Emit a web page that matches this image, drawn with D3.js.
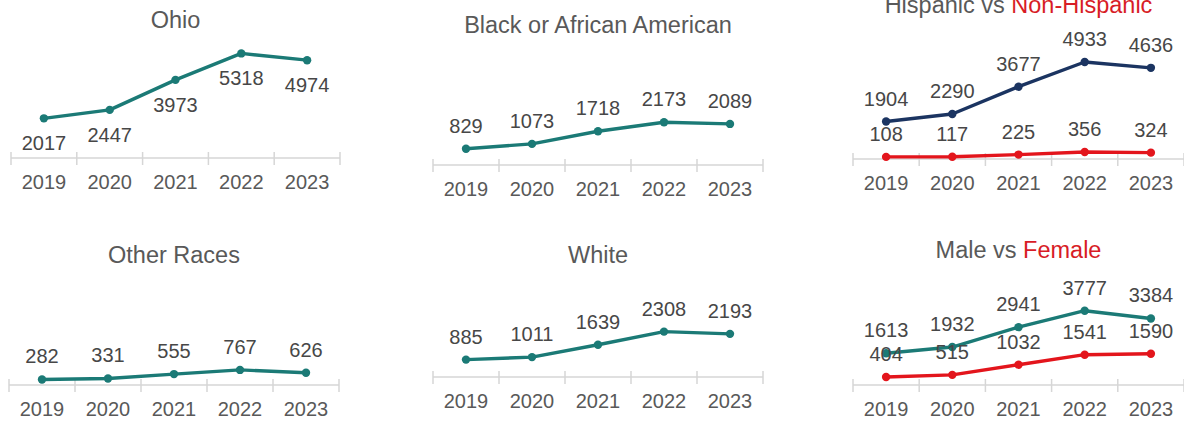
<!DOCTYPE html>
<html>
<head>
<meta charset="utf-8">
<script src="https://cdn.jsdelivr.net/npm/d3@7"></script>
<style>
  html, body { margin: 0; padding: 0; background: #ffffff; }
  svg { display: block; font-family: "Liberation Sans", Arial, sans-serif; }
</style>
</head>
<body>
<svg id="chart" width="1184" height="425"></svg>
<script>
// Yearly counts, 2019-2023
const years = ["2019", "2020", "2021", "2022", "2023"];
const ohio = [2017, 2447, 3973, 5318, 4974];
const blackAfricanAmerican = [829, 1073, 1718, 2173, 2089];
const nonHispanic = [1904, 2290, 3677, 4933, 4636];
const hispanic = [108, 117, 225, 356, 324];
const otherRaces = [282, 331, 555, 767, 626];
const white = [885, 1011, 1639, 2308, 2193];
const male = [1613, 1932, 2941, 3777, 3384];
const female = [404, 515, 1032, 1541, 1590];

const TEAL = "#1b7a76";
const NAVY = "#1b3461";
const RED = "#e3151c";
const TITLE_RED = "#d81c26";
const GREY = "#595959";
const LABEL_GREY = "#474747";
const AXIS_GREY = "#d6d6d6";

const svg = d3.select("#chart");

const panels = [
  { x0: 11, x1: 340, base: 158, titleY: 28,
    title: [{ t: "Ohio", c: GREY }],
    series: [{ v: ohio, color: TEAL, pos: "below" }] },
  { x0: 433, x1: 763, base: 165, titleY: 33,
    title: [{ t: "Black or African American", c: GREY }],
    series: [{ v: blackAfricanAmerican, color: TEAL, pos: "above" }] },
  { x0: 853, x1: 1184, base: 159, titleY: 13,
    title: [{ t: "Hispanic vs ", c: GREY }, { t: "Non-Hispanic", c: TITLE_RED }],
    series: [{ v: nonHispanic, color: NAVY, pos: "above" },
             { v: hispanic, color: RED, pos: "above" }] },
  { x0: 9, x1: 339, base: 385, titleY: 263,
    title: [{ t: "Other Races", c: GREY }],
    series: [{ v: otherRaces, color: TEAL, pos: "above" }] },
  { x0: 433, x1: 763, base: 377, titleY: 263,
    title: [{ t: "White", c: GREY }],
    series: [{ v: white, color: TEAL, pos: "above" }] },
  { x0: 853, x1: 1184, base: 385, titleY: 258,
    title: [{ t: "Male vs ", c: GREY }, { t: "Female", c: TITLE_RED }],
    series: [{ v: male, color: TEAL, pos: "above" },
             { v: female, color: RED, pos: "above" }] }
];

panels.forEach(p => {
  const g = svg.append("g");
  const x = d3.scaleBand().domain(years).range([p.x0, p.x1]).padding(0);
  const y = d3.scaleLinear().domain([0, 6000]).range([p.base, p.base - 118]);
  const cx = d => x(d) + x.bandwidth() / 2;

  // Title
  const title = g.append("text")
    .attr("x", (p.x0 + p.x1) / 2)
    .attr("y", p.titleY)
    .attr("text-anchor", "middle")
    .style("font-size", "23.5px");
  p.title.forEach(part => title.append("tspan").attr("fill", part.c).text(part.t));

  // Category axis: year labels
  const axis = g.append("g")
    .attr("transform", `translate(0,${p.base})`)
    .call(d3.axisBottom(x).tickSize(0).tickPadding(0));
  axis.select(".domain").remove();
  axis.selectAll("text")
    .attr("y", 31).attr("dy", 0)
    .attr("fill", GREY)
    .style("font-size", "20px")
    .style("font-family", "'Liberation Sans', Arial, sans-serif");

  // Baseline and band-boundary tick marks
  g.append("line")
    .attr("x1", p.x0).attr("x2", p.x1)
    .attr("y1", p.base).attr("y2", p.base)
    .attr("stroke", AXIS_GREY).attr("stroke-width", 1.5);
  const edges = years.map(d => x(d)).concat([p.x1]);
  g.selectAll("line.edge").data(edges).join("line")
    .attr("class", "edge")
    .attr("x1", d => d).attr("x2", d => d)
    .attr("y1", p.base - 6).attr("y2", p.base + 7)
    .attr("stroke", AXIS_GREY).attr("stroke-width", 1.5);

  // Lines, markers, value labels
  p.series.forEach(s => {
    const pts = years.map((yr, i) => ({ yr, v: s.v[i] }));
    const line = d3.line().x(d => cx(d.yr)).y(d => y(d.v));
    g.append("path").datum(pts)
      .attr("d", line)
      .attr("fill", "none")
      .attr("stroke", s.color)
      .attr("stroke-width", 3.4)
      .attr("stroke-linejoin", "round");
    g.selectAll(null).data(pts).join("circle")
      .attr("cx", d => cx(d.yr)).attr("cy", d => y(d.v))
      .attr("r", 4.2).attr("fill", s.color);
  });
  p.series.forEach(s => {
    const pts = years.map((yr, i) => ({ yr, v: s.v[i] }));
    g.selectAll(null).data(pts).join("text")
      .attr("x", d => cx(d.yr))
      .attr("y", d => y(d.v) + (s.pos === "below" ? 32 : -16))
      .attr("text-anchor", "middle")
      .attr("fill", LABEL_GREY)
      .style("font-size", "20px")
      .text(d => d.v);
  });
});
</script>
</body>
</html>
